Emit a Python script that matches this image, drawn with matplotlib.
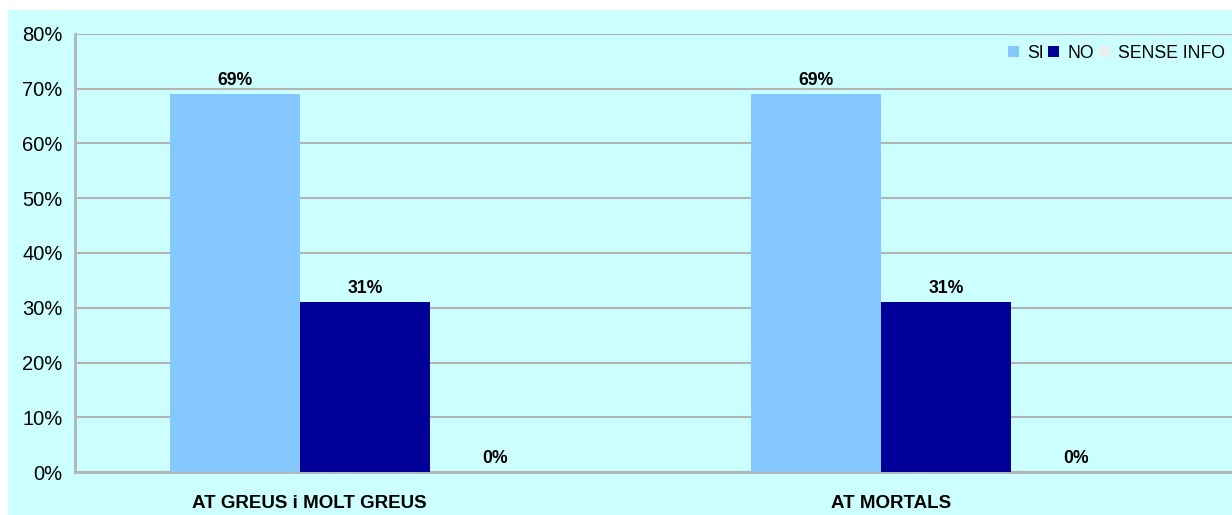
import matplotlib.pyplot as plt
import matplotlib.patches as mpatches
import numpy as np

plt.rcParams['font.family'] = ['Liberation Sans', 'DejaVu Sans']

# --- data
categories = ['AT GREUS i MOLT GREUS', 'AT MORTALS']
series = ['SI', 'NO', 'SENSE INFO']
si_vals = [69, 69]
no_vals = [31, 31]
sense_info_vals = [0, 0]
colors = ['#85C8FF', '#000099', '#EDEDED']
yticks = [0, 10, 20, 30, 40, 50, 60, 70, 80]

bg = '#CCFFFF'
grid_col = '#B4B4B4'

fig = plt.figure(figsize=(12.32, 5.15), dpi=100, facecolor='white')
# cyan chart area (white margin on top and left)
fig.patches.append(mpatches.Rectangle((8/1232, -0.01), 1.0, 1.01-10/515,
                                      transform=fig.transFigure,
                                      facecolor=bg, edgecolor='none', zorder=-5))

ax = fig.add_axes([75/1232, 43/515, 1-75/1232, 438/515])
ax.set_facecolor(bg)

x = np.arange(len(categories))
w = 0.2237
vals = [si_vals, no_vals, sense_info_vals]
for i, (name, v, c) in enumerate(zip(series, vals, colors)):
   xs = x + (i-1)*w
   ax.bar(xs, v, width=w, color=c, label=name, zorder=3, linewidth=0)
   for xx, vv in zip(xs, v):
      ax.text(xx, vv+2.5, '%d%%' % vv, ha='center', va='center',
              fontsize=12.7, fontweight='bold', zorder=4)

ax.set_ylim(0, 80)
ax.set_xlim(-0.499, 1.492)
ax.set_yticks(yticks)
ax.set_yticklabels(['%d%%' % t for t in yticks], fontsize=14.5)
ax.tick_params(axis='y', length=0, pad=9)
ax.set_xticks([])
ax.yaxis.grid(True, color=grid_col, linewidth=1.5, zorder=1)

for s in ['top', 'right']:
   ax.spines[s].set_visible(False)
for s in ['left', 'bottom']:
   ax.spines[s].set_color(grid_col)
   ax.spines[s].set_linewidth(2)
   ax.spines[s].set_zorder(2)

# category labels sit slightly left of the bar groups
for xx, lab in zip(x, categories):
   ax.text(xx-0.095, -5.7, lab, ha='center', va='center',
           fontsize=13.5, fontweight='bold', clip_on=False)

leg = fig.legend(loc='center right', bbox_to_anchor=(1225/1232, 1-53/515),
                 ncol=3, frameon=False, fontsize=12.7, borderpad=0,
                 borderaxespad=0, handlelength=0.63, handleheight=0.63,
                 handletextpad=0.45, columnspacing=0.28)

plt.savefig('out.png', dpi=100, facecolor='white')
